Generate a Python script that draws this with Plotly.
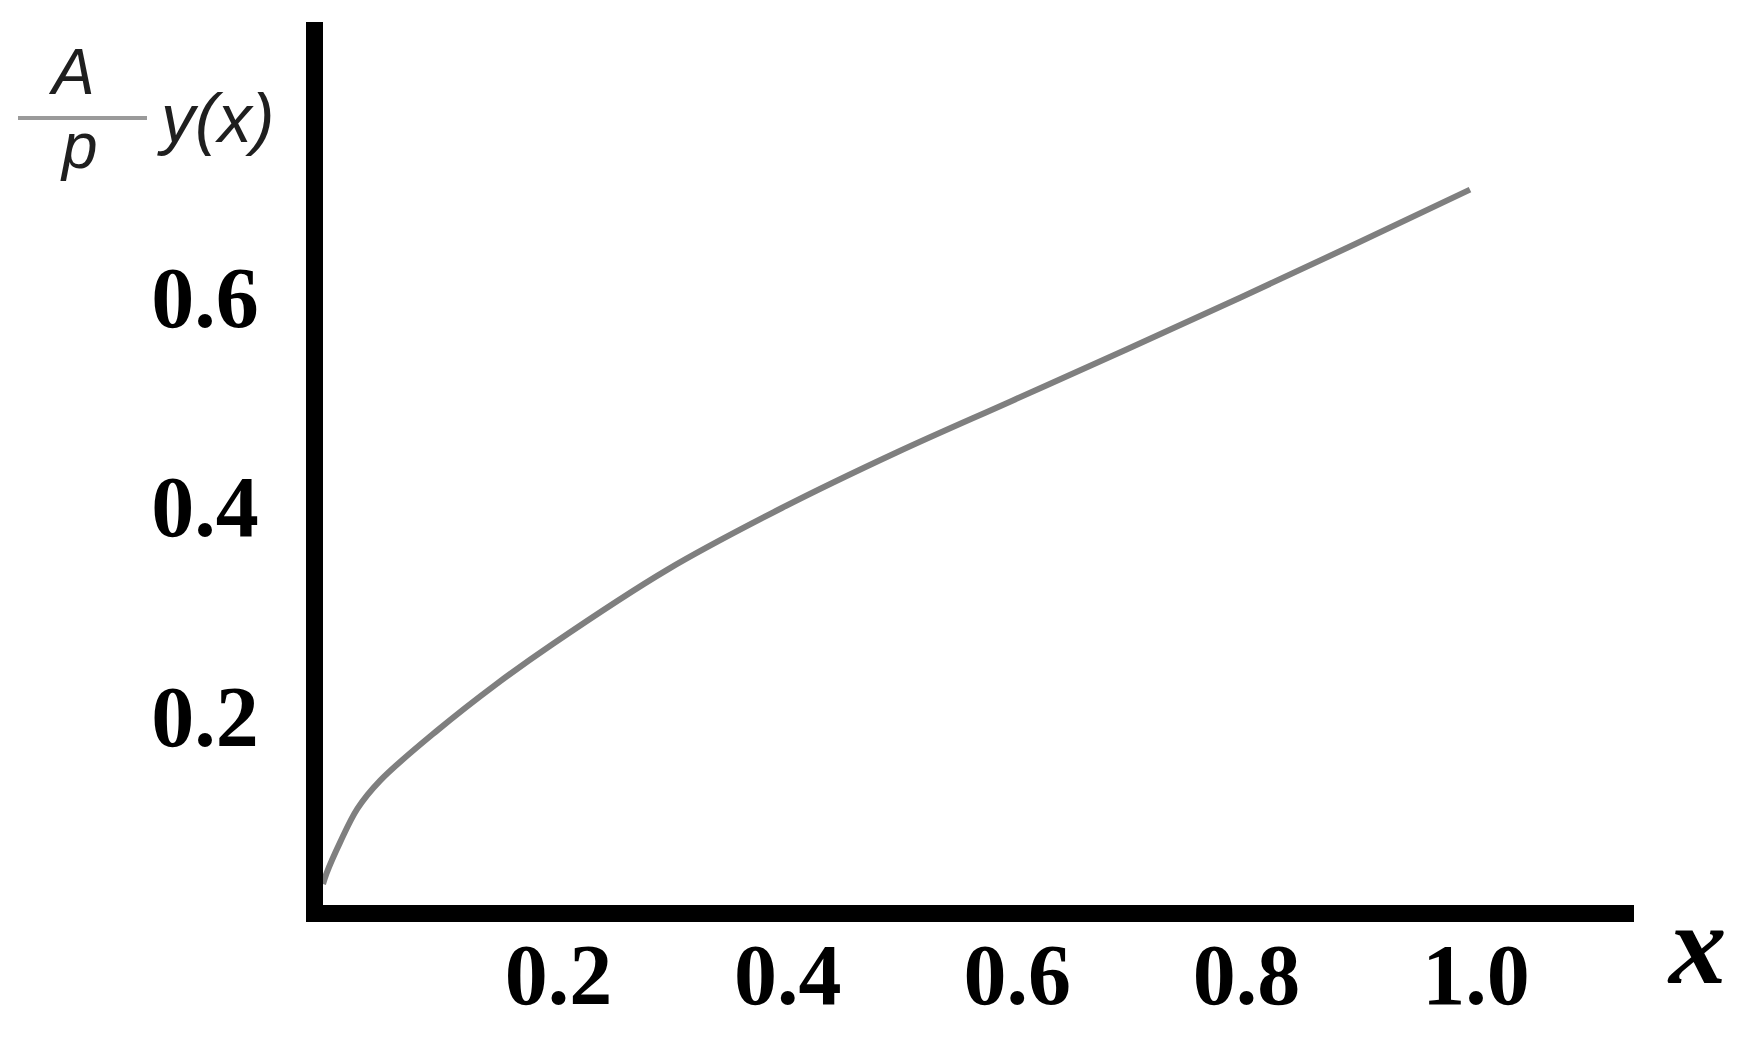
import plotly.graph_objects as go

# ---- data ----
x_vals = [0.0, 0.003, 0.015, 0.03, 0.05, 0.1, 0.15, 0.2, 0.3, 0.4, 0.5, 0.6, 0.7, 0.8, 0.9, 1.0]
y_vals = [0.02, 0.03, 0.06, 0.092, 0.119, 0.167, 0.21, 0.249, 0.32, 0.379, 0.432, 0.481,
          0.530, 0.580, 0.631, 0.683]

x_ticks = [0.2, 0.4, 0.6, 0.8, 1.0]
x_tick_text = ["0.2", "0.4", "0.6", "0.8", "1.0"]
y_ticks = [0.2, 0.4, 0.6]
y_tick_text = ["0.2", "0.4", "0.6"]

# ---- layout geometry (pixels); the page body adds an 8px offset ----
OFF = 8
W, H = 1746 - 2 * OFF, 1042 - 2 * OFF
L, R, T, B = 315, 104, 14, 129
PW, PH = W - L - R, H - T - B


def px(x):
    """page x pixel -> paper coordinate"""
    return (x - OFF - L) / PW


def py(y):
    """page y pixel -> paper coordinate"""
    return (H - B - (y - OFF)) / PH


tick_font = dict(family="Liberation Serif", size=86, color="black")

fig = go.Figure()
fig.add_trace(go.Scatter(
    x=x_vals, y=y_vals, mode="lines",
    line=dict(color="#7f7f7f", width=6, shape="spline", smoothing=1.0),
    showlegend=False, hoverinfo="skip",
))

fig.update_layout(
    width=W, height=H,
    margin=dict(l=L, r=R, t=T, b=B, pad=0, autoexpand=False),
    plot_bgcolor="white", paper_bgcolor="white",
    showlegend=False,
    xaxis=dict(
        range=[0, 1.143], showgrid=False, zeroline=False, automargin=False,
        showline=True, linecolor="black", linewidth=17,
        ticks="", tickvals=x_ticks, ticktext=[f"<b>{t}</b>" for t in x_tick_text],
        tickfont=tick_font, ticklabelstandoff=-21, ticklabelshift=6,
    ),
    yaxis=dict(
        range=[0, 0.843], showgrid=False, zeroline=False, automargin=False,
        showline=True, linecolor="black", linewidth=17,
        ticks="", tickvals=y_ticks, ticktext=[f"<b>{t}</b>" for t in y_tick_text],
        tickfont=tick_font, ticklabelstandoff=30, ticklabelshift=20,
    ),
)

label_font = dict(family="Liberation Sans", color="#1f1f1f")

# y-axis title: (A / p) y(x)
fig.add_annotation(text="<i>A</i>", x=px(71), y=py(72), xref="paper", yref="paper",
                   showarrow=False, xanchor="center", yanchor="middle",
                   font=dict(size=64, **label_font))
fig.add_annotation(text="<i>p</i>", x=px(79), y=py(146), xref="paper", yref="paper",
                   showarrow=False, xanchor="center", yanchor="middle",
                   font=dict(size=64, **label_font))
fig.add_annotation(text="<i>y(x)</i>", x=px(215), y=py(118), xref="paper", yref="paper",
                   showarrow=False, xanchor="center", yanchor="middle",
                   font=dict(size=68, **label_font))
fig.add_shape(type="line", xref="paper", yref="paper",
              x0=px(18), x1=px(147), y0=py(118), y1=py(118),
              line=dict(color="#9a9a9a", width=4))

# x-axis title
fig.add_annotation(text="<b><i>x</i></b>", x=px(1697), y=py(945), xref="paper", yref="paper",
                   showarrow=False, xanchor="center", yanchor="middle",
                   font=dict(family="Liberation Serif", size=115, color="black"))

fig.write_html("out.html")
